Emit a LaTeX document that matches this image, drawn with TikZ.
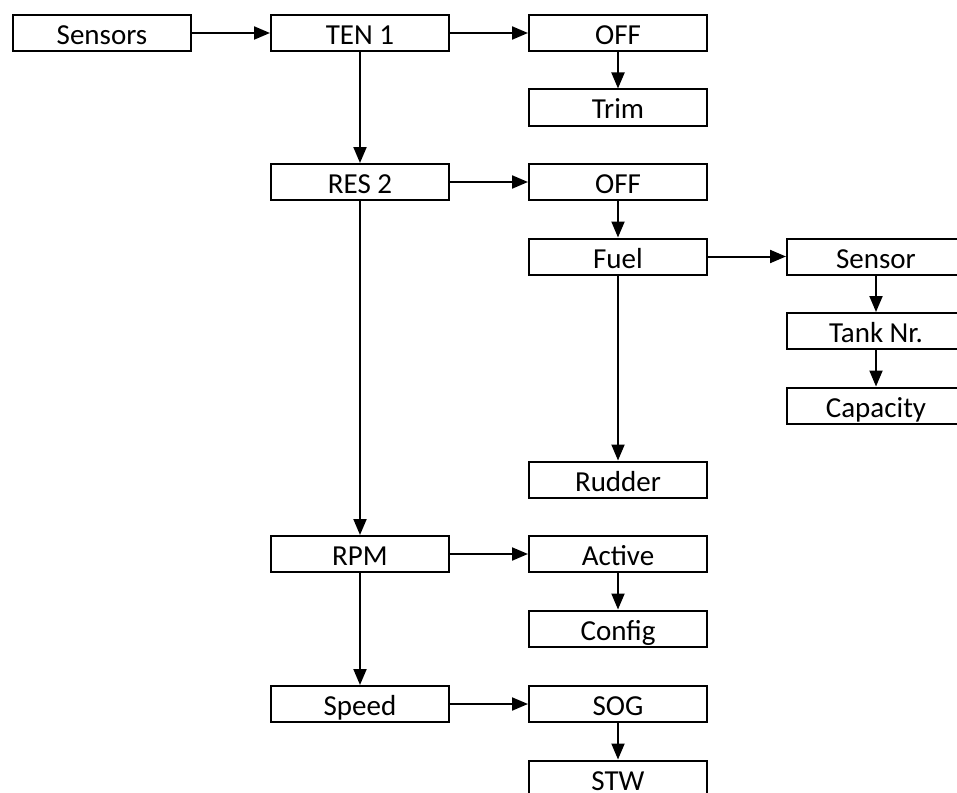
\documentclass[tikz,border=0pt]{standalone}
\usepackage{fontspec}
\setmainfont{Carlito}
\usetikzlibrary{arrows.meta, positioning}
\tikzset{
  menubox/.style={
    rectangle, draw=black, line width=1pt, minimum width=89pt, minimum height=18pt,
    inner sep=0pt, text centered, text height=12pt, text depth=0.5pt,
    font=\fontsize{14.5}{16}\selectfont
  },
  arrow/.style={-{Triangle[length=8pt, width=6.5pt]}, line width=1pt}
}
\begin{document}
\begin{tikzpicture}[node distance=18.25pt and 39pt]
  \useasboundingbox (0,0) rectangle (478.5pt,-396pt);

  \node[menubox, anchor=north west] (sensors) at (6pt,-7pt) {Sensors};
  \node[menubox, right=of sensors] (ten) {TEN 1};
  \node[menubox, right=of ten] (tenoff) {OFF};
  \node[menubox, below=of tenoff] (trim) {Trim};

  \node[menubox, below=55.5pt of ten] (res) {RES 2};
  \node[menubox, right=of res] (resoff) {OFF};
  \node[menubox, below=of resoff] (fuel) {Fuel};
  \node[menubox, right=of fuel] (fsensor) {Sensor};
  \node[menubox, below=of fsensor] (tank) {Tank Nr.};
  \node[menubox, below=of tank] (capacity) {Capacity};
  \node[menubox, below=92.5pt of fuel] (rudder) {Rudder};

  \node[menubox, below=167pt of res] (rpm) {RPM};
  \node[menubox, right=of rpm] (active) {Active};
  \node[menubox, below=of active] (config) {Config};

  \node[menubox, below=56pt of rpm] (speed) {Speed};
  \node[menubox, right=of speed] (sog) {SOG};
  \node[menubox, below=of sog] (stw) {STW};

  \draw[arrow] (sensors) -- (ten);
  \draw[arrow] (ten) -- (tenoff);
  \draw[arrow] (tenoff) -- (trim);
  \draw[arrow] (ten) -- (res);
  \draw[arrow] (res) -- (resoff);
  \draw[arrow] (resoff) -- (fuel);
  \draw[arrow] (fuel) -- (fsensor);
  \draw[arrow] (fsensor) -- (tank);
  \draw[arrow] (tank) -- (capacity);
  \draw[arrow] (fuel) -- (rudder);
  \draw[arrow] (res) -- (rpm);
  \draw[arrow] (rpm) -- (active);
  \draw[arrow] (active) -- (config);
  \draw[arrow] (rpm) -- (speed);
  \draw[arrow] (speed) -- (sog);
  \draw[arrow] (sog) -- (stw);
\end{tikzpicture}
\end{document}
